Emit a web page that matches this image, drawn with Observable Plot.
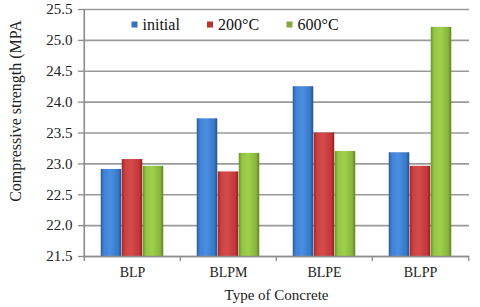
<!DOCTYPE html>
<html>
<head>
<meta charset="utf-8">
<script src="https://cdn.jsdelivr.net/npm/d3@7"></script>
<script src="https://cdn.jsdelivr.net/npm/@observablehq/plot@0.6"></script>
<style>
  html, body { margin: 0; padding: 0; background: #fff; }
  svg, svg text { font-family: "Liberation Serif", "Times New Roman", serif !important; }
</style>
</head>
<body>
<div id="chart"></div>
<script>
const categories = ["BLP", "BLPM", "BLPE", "BLPP"];
const series = ["initial", "200°C", "600°C"];
const initialValues = [22.91, 23.73, 24.25, 23.18];
const c200Values = [23.07, 22.87, 23.50, 22.96];
const c600Values = [22.96, 23.17, 23.20, 25.21];
const yTicks = [21.5, 22, 22.5, 23, 23.5, 24, 24.5, 25, 25.5];
const xTitle = "Type of Concrete";
const yTitle = "Compressive strength (MPA";

const FONT = "Liberation Serif";
const seriesValues = [initialValues, c200Values, c600Values];
const gradIds = ["gBlue", "gRed", "gGreen"];
const gradColors = [
  ["#2a5a9c", "#3f82d6", "#4b8fe0", "#3a78c8", "#23508c"],
  ["#992626", "#cc4040", "#d84b4b", "#c03838", "#8c2020"],
  ["#6a9228", "#93c442", "#a0d04e", "#86b63a", "#5e8222"]
];
const swatchColors = ["#3a72b8", "#b83434", "#86a83a"];

const rows = [];
series.forEach((s, si) => categories.forEach((c, ci) => rows.push({category: c, series: s, value: seriesValues[si][ci]})));

const W = 480, H = 307;
const mL = 83, mR = 11, mT = 9, mB = 51;
const band = (W - mL - mR) / categories.length;
const barW = 21;
const inset = (band - barW) / 2;

const marks = [
  Plot.gridY(yTicks, {stroke: "#9a9a9a", strokeOpacity: 1, strokeWidth: 1.6}),
];
series.forEach((s, si) => {
  marks.push(Plot.barY(rows.filter(d => d.series === s), {
    x: "category", y1: 21.5, y2: "value",
    fill: `url(#${gradIds[si]})`,
    insetLeft: inset, insetRight: inset,
    dx: (si - 1) * barW
  }));
});
marks.push(
  Plot.ruleY([21.5], {stroke: "#8c8c8c", strokeWidth: 1.6}),
  Plot.ruleX([categories[0]], {x: d => d, dx: -band / 2, stroke: "#8c8c8c", strokeWidth: 1.6}),
  Plot.ruleX(categories, {x: d => d, dx: -band / 2, y1: 21.5, y2: 21.42, stroke: "#8c8c8c", strokeWidth: 1.3}),
  Plot.ruleX([categories[categories.length - 1]], {x: d => d, dx: band / 2, y1: 21.5, y2: 21.42, stroke: "#8c8c8c", strokeWidth: 1.3}),
  Plot.axisY({ticks: yTicks, tickSize: 5, tickPadding: 6, stroke: "#8c8c8c", strokeWidth: 1.3, fontSize: 15, fontFamily: FONT, fill: "#222", label: null}),
  Plot.axisX({tickSize: 0, tickPadding: 11, fontSize: 14, fontFamily: FONT, fill: "#222", label: null}),
  Plot.text([xTitle], {frameAnchor: "bottom", dy: 39, fontSize: 15, fontFamily: FONT, fill: "#222", lineAnchor: "middle"}),
  Plot.text([yTitle], {frameAnchor: "left", dx: -68, dy: -22, rotate: -90, textAnchor: "middle", lineAnchor: "middle", fontSize: 16, fontFamily: FONT, fill: "#222"})
);
const legendOffsets = [51, 126.5, 206];
series.forEach((s, si) => {
  marks.push(
    Plot.dot([s], {frameAnchor: "top-left", dx: legendOffsets[si], dy: 15, symbol: "square", r: 3.4, fill: swatchColors[si], stroke: "none"}),
    Plot.text([s], {frameAnchor: "top-left", dx: legendOffsets[si] + 8, dy: 15, textAnchor: "start", lineAnchor: "middle", fontSize: 16, fontFamily: FONT, fill: "#111"})
  );
});

const chart = Plot.plot({
  width: W, height: H,
  marginLeft: mL, marginRight: mR, marginTop: mT, marginBottom: mB,
  style: {fontFamily: FONT, background: "#fff", overflow: "visible"},
  x: {domain: categories, padding: 0, axis: null},
  y: {domain: [21.5, 25.5], axis: null},
  marks
});

const ns = "http://www.w3.org/2000/svg";
const defs = document.createElementNS(ns, "defs");
gradIds.forEach((id, i) => {
  const g = document.createElementNS(ns, "linearGradient");
  g.setAttribute("id", id);
  g.setAttribute("x1", "0"); g.setAttribute("x2", "1"); g.setAttribute("y1", "0"); g.setAttribute("y2", "0");
  [0, 0.15, 0.45, 0.85, 1].forEach((o, k) => {
    const st = document.createElementNS(ns, "stop");
    st.setAttribute("offset", o);
    st.setAttribute("stop-color", gradColors[i][k]);
    g.appendChild(st);
  });
  defs.appendChild(g);
});
chart.insertBefore(defs, chart.firstChild);
document.getElementById("chart").appendChild(chart);
</script>
</body>
</html>
